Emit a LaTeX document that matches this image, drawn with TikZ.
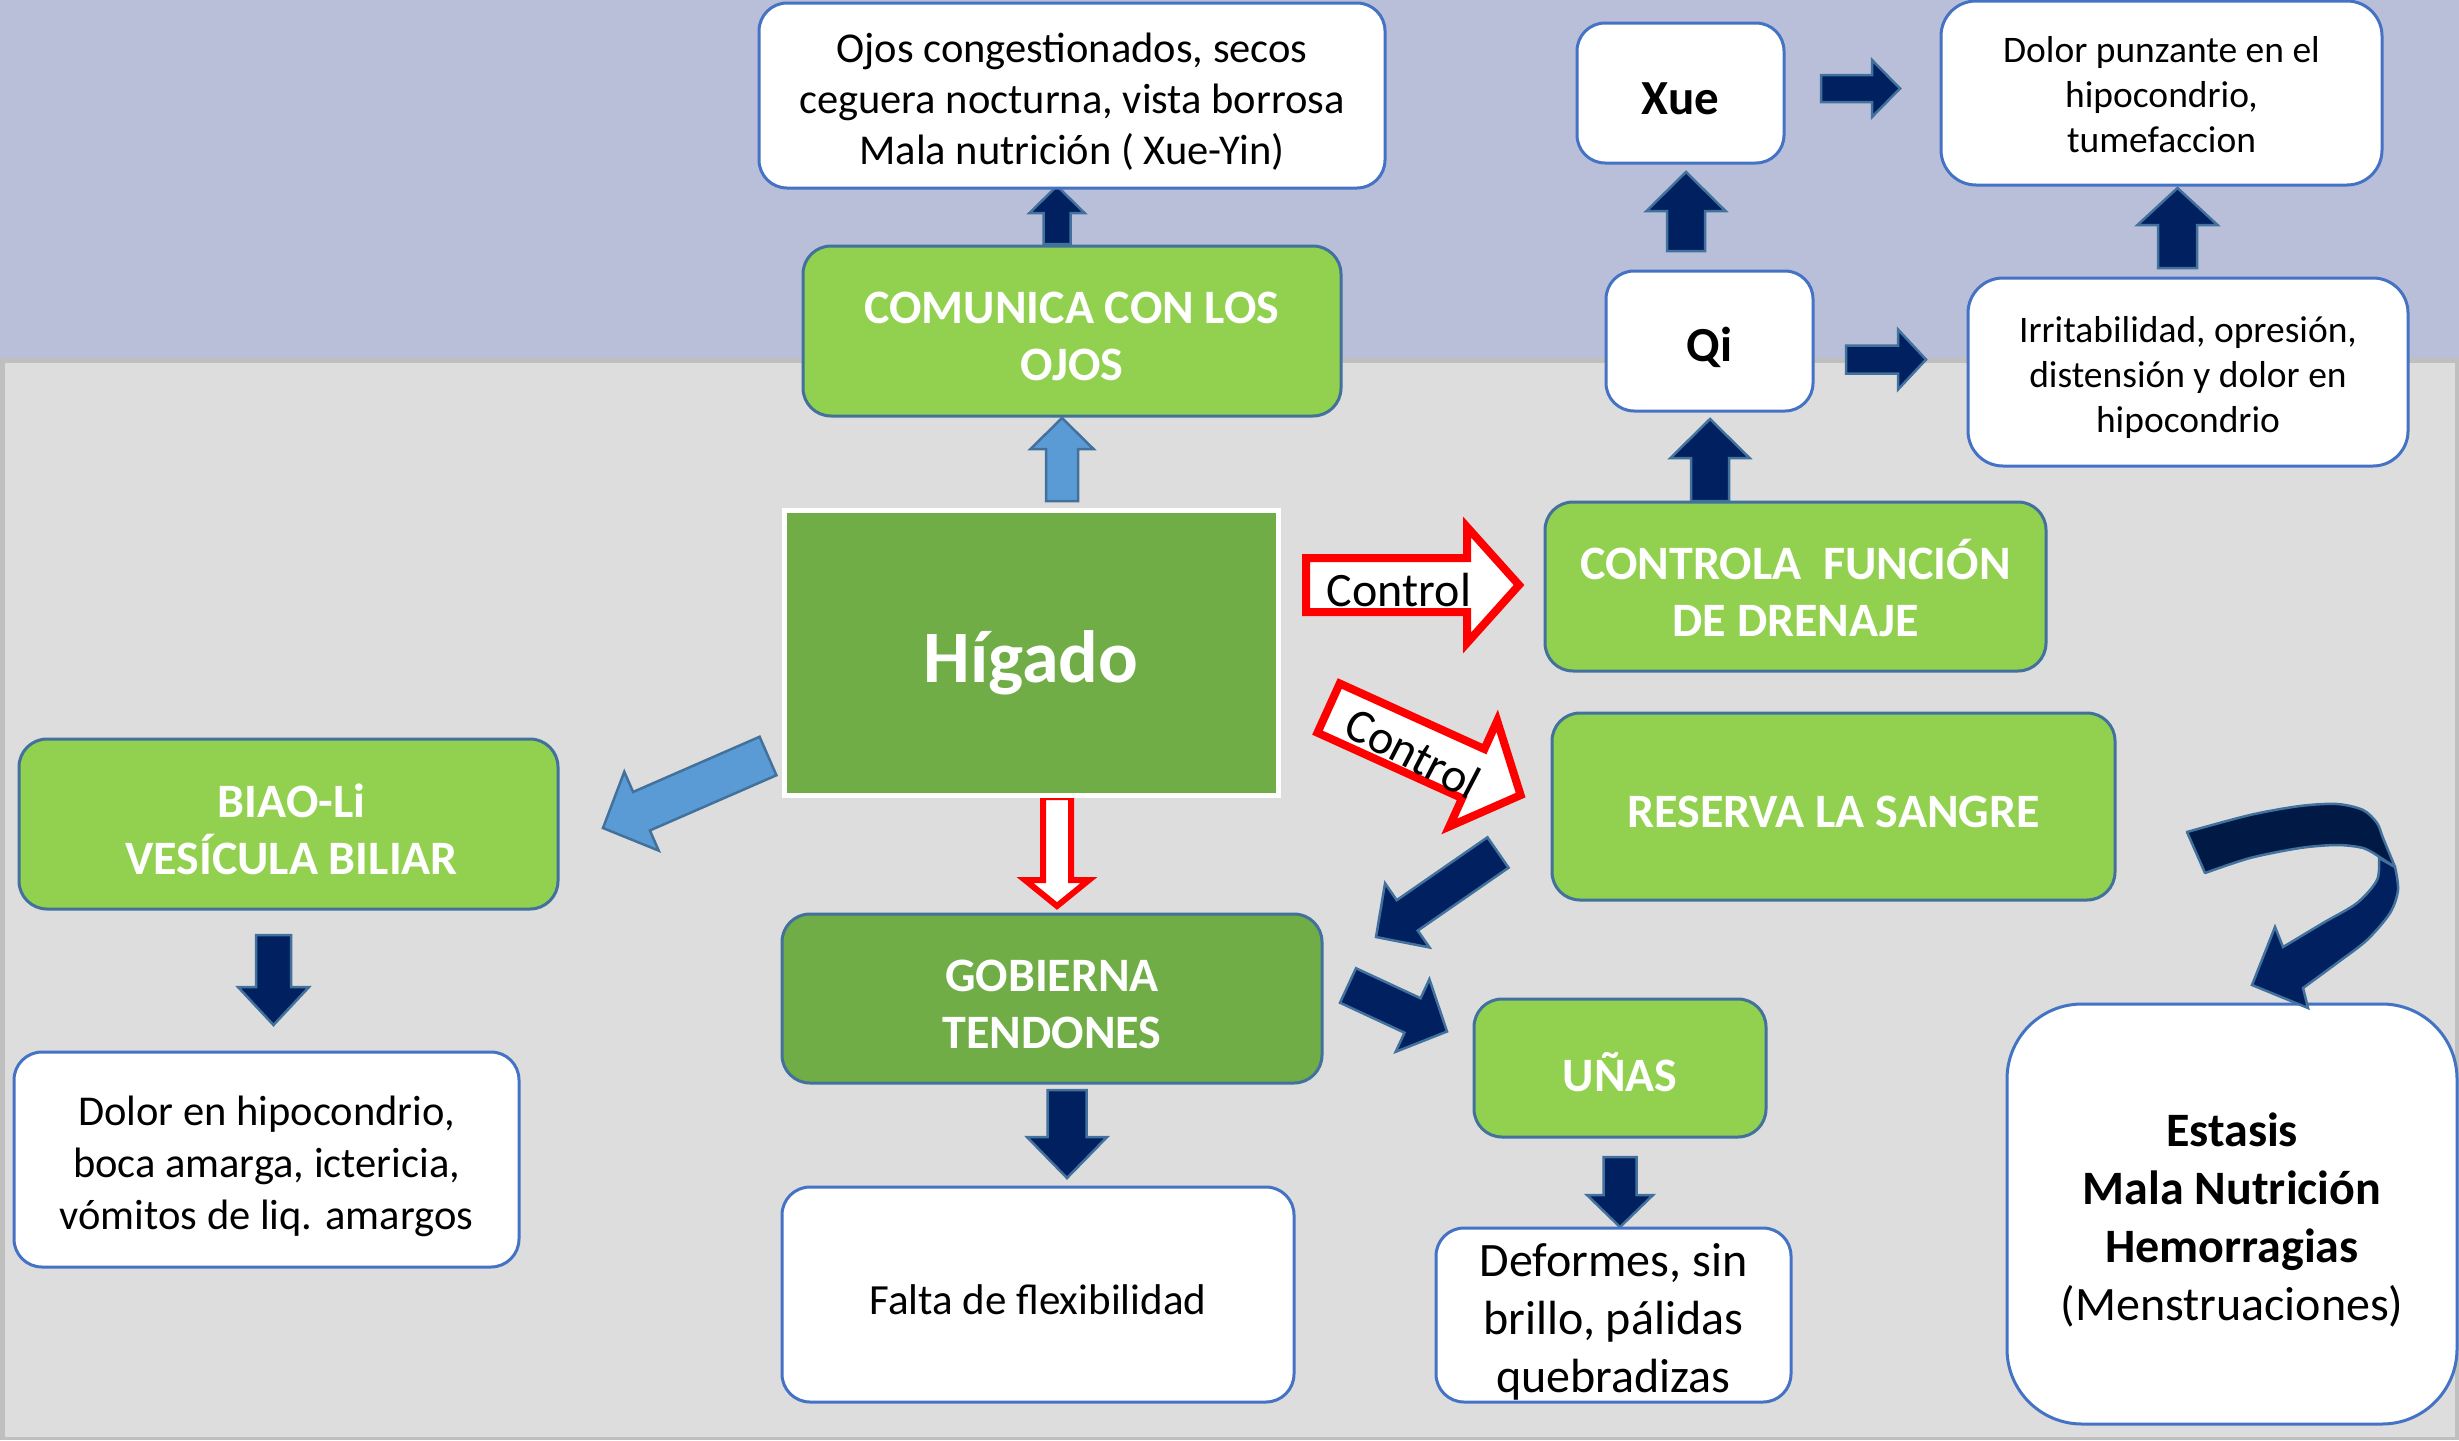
\documentclass[tikz,border=0pt]{standalone}
\usepackage{fontspec}
\setmainfont{Carlito}
\usetikzlibrary{calc}
\definecolor{lav}{HTML}{BABFD9}
\definecolor{grayin}{HTML}{DDDDDD}
\definecolor{grayb}{HTML}{BFBFBF}
\definecolor{gr}{HTML}{92D050}
\definecolor{dgr}{HTML}{70AD47}
\definecolor{bl}{HTML}{4472C4}
\definecolor{sb}{HTML}{41719C}
\definecolor{nv}{HTML}{002060}
\definecolor{nvd}{HTML}{001A45}
\definecolor{lb}{HTML}{5B9BD5}
\newcommand\fsz[2]{\fontsize{#1}{#2}\selectfont}
\newcommand\blockarr[6]{%
  \coordinate (ba) at #2; \coordinate (bb) at #3;
  \coordinate (bh) at ($(bb)!#6!(ba)$);
  \draw[#1] ($(ba)!#4!90:(bb)$) -- ($(bh)!#4!-90:(ba)$) -- ($(bh)!#5!-90:(ba)$) -- (bb)
    -- ($(bh)!#5!90:(ba)$) -- ($(bh)!#4!90:(ba)$) -- ($(ba)!#4!-90:(bb)$) -- cycle;}
\begin{document}
\begin{tikzpicture}[x=1pt,y=-1pt,
  wbox/.style={draw=bl, fill=white, line width=3, rounded corners=28, inner sep=0pt},
  gbox/.style={draw=sb, fill=gr, line width=3, rounded corners=28, inner sep=0pt},
  txt/.style={align=center, inner sep=0pt, text=black},
  gtxt/.style={align=center, inner sep=0pt, text=white, font=\fsz{48}{57}\bfseries},
  nvarr/.style={fill=nv, draw=sb, line width=2.5, line join=miter},
  lbarr/.style={fill=lb, draw=sb, line width=2.5, line join=miter},
  redarr/.style={fill=white, draw=red, line width=8, line join=miter},
  ctext/.style={inner sep=0pt, text=black, font=\fsz{48}{55}}]
\useasboundingbox (0,0) rectangle (2459,1440);
\fill[lav] (0,0) rectangle (2459,1440);
\fill[grayb] (0,358) rectangle (2459,1440);
\fill[grayin] (5,363) rectangle (2455,1437);

% block arrows
\blockarr{nvarr}{(1057,244)}{(1057,186)}{13.5pt}{27.5pt}{27pt}
\blockarr{lbarr}{(1062,501)}{(1062,418)}{16pt}{31.5pt}{31pt}
\blockarr{nvarr}{(1821,88.5)}{(1900,88.5)}{13.5pt}{28.5pt}{28pt}
\blockarr{nvarr}{(1686,251)}{(1686,172)}{19pt}{39.5pt}{39pt}
\blockarr{nvarr}{(2177.5,268)}{(2177.5,188)}{19.5pt}{40pt}{37pt}
\blockarr{nvarr}{(1846,359.5)}{(1926,359.5)}{14pt}{30pt}{28pt}
\blockarr{nvarr}{(1710,501)}{(1710,419)}{19pt}{39.5pt}{39pt}
\blockarr{redarr}{(1306,585)}{(1519,585)}{27pt}{58pt}{52pt}
\blockarr{redarr}{(1328.6,708.1)}{(1520.6,795.1)}{27pt}{58pt}{52pt}
\blockarr{redarr,line width=6}{(1057,797)}{(1057,906)}{14pt}{32pt}{26pt}
\blockarr{lbarr}{(768,756)}{(603,828)}{21pt}{43pt}{42pt}
\blockarr{nvarr}{(273.5,935)}{(273.5,1025)}{17.5pt}{35.5pt}{38pt}
\blockarr{nvarr}{(1067,1090)}{(1067,1178)}{19.5pt}{40pt}{41pt}
\blockarr{nvarr}{(1620,1157)}{(1620,1227)}{16.5pt}{33pt}{32pt}
\blockarr{nvarr}{(1498,852.5)}{(1376,937)}{18.5pt}{39pt}{38pt}
\blockarr{nvarr}{(1348,985.5)}{(1447,1031.5)}{19pt}{40pt}{38pt}

\node[ctext] (c1) at (1399,590) {Control};
\node[ctext, rotate=-27.5] (c2) at (1413,753) {Control};

% boxes
\node[wbox, minimum width=626, minimum height=185] (ojos) at (1072,95.5) {};
\node[txt, font=\fsz{42.5}{51}] (ojos-t) at ($(ojos)+(0,6)$)
  {Ojos congestionados, secos\\ceguera nocturna, vista borrosa\\Mala nutrición ( Xue-Yin)};
\node[gbox, minimum width=538, minimum height=170] (comunica) at (1072,331) {};
\node[gtxt] (comunica-t) at ($(comunica)+(0,5)$) {COMUNICA CON LOS\\OJOS};
\node[draw=white, fill=dgr, line width=5, minimum width=494, minimum height=285, inner sep=0pt] (higado) at (1031,652.5) {};
\node[inner sep=0pt, text=white, font=\fsz{74}{80}\bfseries] (higado-t) at ($(higado)+(0,10)$) {Hígado};
\node[wbox, minimum width=207, minimum height=140] (xue) at (1680.5,93) {};
\node[txt, font=\fsz{49}{55}\bfseries] (xue-t) at ($(xue)+(0,6)$) {Xue};
\node[wbox, rounded corners=35, minimum width=441, minimum height=184] (dolorp) at (2161.5,93) {};
\node[txt, font=\fsz{37.5}{45}] (dolorp-t) at ($(dolorp)+(0,2)$) {Dolor punzante en el\\hipocondrio,\\tumefaccion};
\node[wbox, minimum width=207, minimum height=140] (qi) at (1709.5,341) {};
\node[txt, font=\fsz{49}{55}\bfseries] (qi-t) at ($(qi)+(0,6)$) {Qi};
\node[wbox, rounded corners=35, minimum width=440, minimum height=188] (irrit) at (2188,372) {};
\node[txt, font=\fsz{37.5}{45}] (irrit-t) at ($(irrit)+(0,5)$) {Irritabilidad, opresión,\\distensión y dolor en\\hipocondrio};
\node[gbox, minimum width=501, minimum height=169] (controla) at (1795.5,586.5) {};
\node[gtxt] (controla-t) at ($(controla)+(0,1)$) {CONTROLA\ \ FUNCIÓN\\DE DRENAJE};
\node[gbox, minimum width=563, minimum height=187] (reserva) at (1833.5,806.5) {};
\node[gtxt] (reserva-t) at ($(reserva)+(0,5)$) {RESERVA LA SANGRE};
\node[gbox, minimum width=539, minimum height=170] (biao) at (288.5,824) {};
\node[gtxt] (biao-t) at ($(biao)+(3,5)$) {BIAO-Li\\VESÍCULA BILIAR};
\node[wbox, minimum width=505, minimum height=215] (dolorh) at (266.5,1159.5) {};
\node[txt, font=\fsz{42.5}{52}] (dolorh-t) at ($(dolorh)+(0,7)$)
  {Dolor en hipocondrio,\\boca amarga, ictericia,\\vómitos de liq. amargos};
\node[gbox, fill=dgr, minimum width=540, minimum height=169] (gobierna) at (1052,998.5) {};
\node[gtxt] (gobierna-t) at ($(gobierna)+(0,6)$) {GOBIERNA\\TENDONES};
\node[wbox, minimum width=512, minimum height=215] (falta) at (1038,1294.5) {};
\node[txt, font=\fsz{43}{52}] (falta-t) at ($(falta)+(0,5)$) {Falta de flexibilidad};
\node[gbox, minimum width=292, minimum height=138] (unas) at (1620,1068) {};
\node[gtxt] (unas-t) at ($(unas)+(0,4)$) {UÑAS};
\node[wbox, minimum width=355, minimum height=174] (deformes) at (1613.5,1315) {};
\node[txt, font=\fsz{48}{58}] (deformes-t) at ($(deformes)+(0,7)$)
  {Deformes, sin\\brillo, pálidas\\quebradizas};
\node[wbox, rounded corners=75, minimum width=450, minimum height=420] (estasis) at (2232,1214) {};
\node[txt, font=\fsz{48}{58}] (estasis-t) at ($(estasis)+(0,6)$)
  {\textbf{Estasis}\\\textbf{Mala Nutrición}\\\textbf{Hemorragias}\\(Menstruaciones)};

% curved arrow
\filldraw[fill=nv, draw=sb, line width=2.5, line join=miter]
  plot[smooth] coordinates {(2395,867) (2398,890) (2390,913) (2367,940) (2337,963) (2303,988)}
  -- (2308,1008) -- (2252,985) -- (2275,927)
  -- plot[smooth] coordinates {(2283,947) (2323,923) (2357,903) (2377,880) (2379,858)} -- cycle;
\filldraw[fill=nvd, draw=sb, line width=2.5, line join=round]
  plot[smooth] coordinates {(2187,832) (2250,815) (2300,806) (2337,804) (2363,810) (2377,823) (2383,838) (2395,867)}
  -- plot[smooth] coordinates {(2378,856) (2363,848) (2337,845) (2300,848) (2250,858) (2205,873)} -- cycle;
\end{tikzpicture}
\end{document}
